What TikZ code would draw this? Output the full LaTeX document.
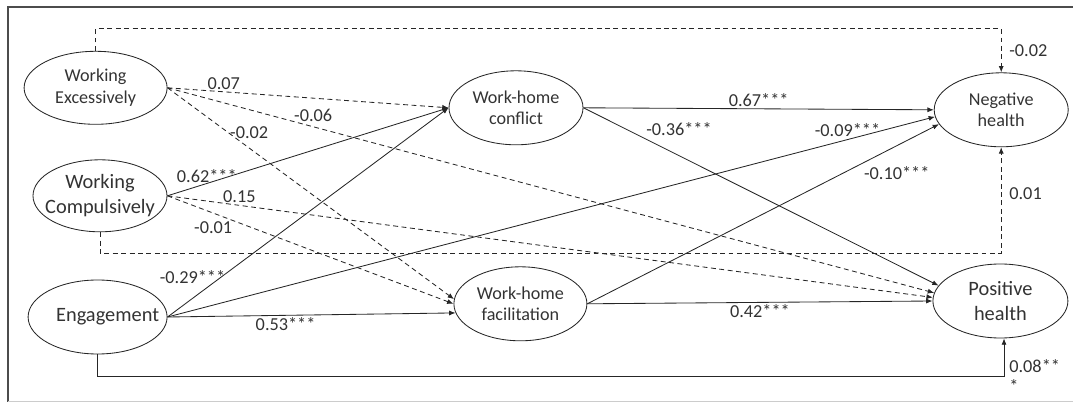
\documentclass[tikz,border=0pt]{standalone}
\usepackage{fontspec}
\setmainfont{Carlito}
\usepackage{xcolor}
\usetikzlibrary{arrows.meta, positioning, calc, shapes}

\begin{document}
\begin{tikzpicture}[
    var/.style={ellipse, draw=black!85, line width=0.6pt, inner xsep=-12pt, inner ysep=0pt,
        align=center, text=black!80, minimum width=3.35cm, minimum height=1.85cm},
    big/.style={font=\fontsize{14.5}{17.7}\selectfont},
    small/.style={font=\fontsize{12.9}{15.6}\selectfont},
    sigline/.style={draw=black!85, line width=0.6pt, -{Latex[length=4.5pt, width=3.6pt]}},
    nsline/.style={sigline, dash pattern=on 3.5pt off 2.5pt},
    coef/.style={font=\fontsize{13}{15.6}\selectfont, text=black!80, inner sep=1.5pt}
]
    \useasboundingbox (0,0) rectangle (26.825,10.075);

    % frame
    \draw[black!70, line width=0.8pt] (26.9,9.9) -- (0.2,9.9) -- (0.2,0.03);
    \draw[black!20, line width=0.8pt] (0.2,0.03) -- (26.9,0.03);

    % variables
    \node[var, small, minimum width=3.575cm, minimum height=1.825cm] (we) at (2.39, 7.88) {Working\\Excessively};
    \node[var, big, minimum height=1.8cm] (wc) at (2.5, 5.18) {Working\\Compulsively};
    \node[var, big, minimum width=3.475cm] (eng) at (2.44, 2.15) {\hspace*{0.5cm}Engagement};
    \node[var, small] (whc) at (12.9, 7.38) {Work-home\\conflict};
    \node[var, small, minimum width=3.325cm] (whf) at (13.01, 2.48) {Work-home\\facilitation};
    \node[var, small] (nh) at (25.03, 7.33) {Negative\\health};
    \node[var, big, minimum width=3.375cm] (ph) at (25.01, 2.55) {Positive\\health};

    % working excessively
    \draw[nsline] (we.east) -- node[coef, pos=0.2, above] {0.07} (whc.west);
    \draw[nsline] (we.east) -- node[coef, pos=0.19, above=2pt] {-0.06} (ph.173);
    \draw[nsline] (we.east) -- node[coef, pos=0.21, right] {-0.02} (whf.176);
    \draw[nsline] (we.north) -- ++(0,0.55) -| node[coef, pos=0.75, right=4pt] {-0.02} (nh.north);

    % working compulsively
    \draw[sigline] (wc.east) -- node[coef, pos=0.14, above=-1pt] {0.62***} (whc.west);
    \draw[nsline] (wc.east) -- node[coef, pos=0.094, above] {0.15} (ph.177);
    \draw[nsline] (wc.east) -- node[coef, pos=0.16, below=4pt] {-0.01} (whf.west);
    \draw[nsline] (wc.south) -- ++(0,-0.525) -| node[coef, pos=0.78, right=4pt] {0.01} (nh.south);

    % engagement
    \draw[sigline] (eng.east) -- node[coef, pos=0.19, anchor=east, xshift=0.17cm] {-0.29***} (whc.west);
    \draw[sigline] (eng.east) -- node[coef, pos=0.886, above] {-0.09***} (nh.186);
    \draw[sigline] (eng.east) -- node[coef, pos=0.41, below] {0.53***} (whf.188);
    \draw[sigline] (eng.south) -- ++(0,-0.55) -| node[coef, pos=0.75, anchor=north west, align=left, xshift=2pt] {0.08**\\[-2pt]*} ([xshift=0.09cm]ph.south);

    % mediators
    \draw[sigline] (whc.east) -- node[coef, above] {0.67***} (nh.west);
    \draw[sigline] (whc.east) -- node[coef, pos=0.17, anchor=south west] {-0.36***} (ph.166);
    \draw[sigline] (whf.east) -- node[coef, pos=0.78, anchor=north west] {-0.10***} (nh.193);
    \draw[sigline] (whf.east) -- node[coef, pos=0.5, below] {0.42***} (ph.west);
\end{tikzpicture}
\end{document}
